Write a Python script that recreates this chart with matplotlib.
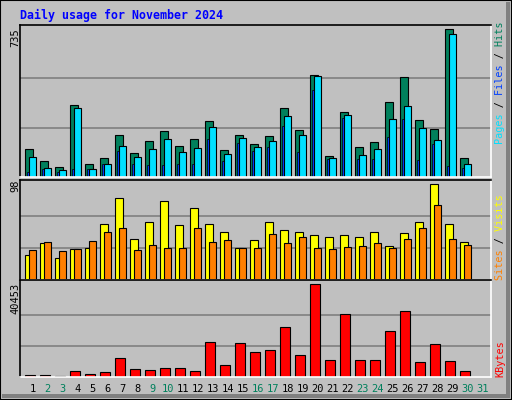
import matplotlib
matplotlib.use("Agg")
from matplotlib import pyplot as plt
from matplotlib.patches import Rectangle
import numpy as np

days = list(range(1, 32))
hits = [141, 77, 52, 356, 67, 96, 211, 121, 181, 226, 156, 191, 276, 136, 211,
        166, 206, 341, 231, 506, 106, 321, 151, 176, 371, 496, 281, 236, 735, 96]
files = [101, 47, 37, 341, 42, 67, 156, 101, 141, 191, 126, 146, 246, 116, 196,
         151, 181, 301, 211, 501, 96, 306, 111, 141, 286, 351, 241, 186, 710, 67]
pages = [27, 42, 27, 42, 42, 67, 131, 67, 62, 62, 67, 67, 191, 77, 171,
         131, 151, 251, 126, 431, 91, 291, 91, 91, 201, 286, 86, 166, 57, 47]
visits = [26, 38, 23, 32, 33, 57, 84, 42, 59, 81, 56, 74, 57, 49, 33,
          41, 59, 51, 49, 46, 44, 46, 44, 49, 35, 48, 59, 98, 57, 39]
sites = [31, 39, 30, 32, 40, 49, 53, 31, 36, 33, 33, 53, 39, 41, 33,
         33, 47, 38, 44, 33, 32, 34, 35, 38, 33, 42, 53, 77, 42, 36]
kbytes = [1033, 1033, 590, 2800, 1480, 2360, 8120, 3690, 3250, 4130, 4130, 2800,
          15200, 5460, 14760, 10780, 11660, 21850, 9450, 40453, 7230, 27600, 7230,
          7230, 20080, 28930, 6350, 14320, 6790, 2800]
weekend = [2, 3, 9, 10, 16, 17, 23, 24, 30, 31]

W, H = 512, 400
BG = "#C0C0C0"
fig = plt.figure(figsize=(W / 100, H / 100), dpi=100, facecolor=BG)
mono = "DejaVu Sans Mono"


def px_axes(x0, y0, x1, y1):
    return fig.add_axes([x0 / W, 1 - y1 / H, (x1 - x0) / W, (y1 - y0) / H])


# frame bevel
fig.patches.append(Rectangle((0, 0), 1, 1, transform=fig.transFigure, fill=False,
                             edgecolor="black", linewidth=1.5))
fig.patches.append(Rectangle((506 / W, 2 / H), 4 / W, 396 / H, transform=fig.transFigure,
                             color="#808080", linewidth=0))
fig.patches.append(Rectangle((2 / W, 2 / H), 508 / W, 4 / H, transform=fig.transFigure,
                             color="#808080", linewidth=0))

x = np.array(days[:30])
lw = 0.8
xlim = (0.347, 31.747)


def style(ax, ymax, grid):
    ax.set_facecolor(BG)
    ax.set_xlim(*xlim)
    ax.set_ylim(0, ymax)
    ax.set_xticks([])
    ax.set_yticks([])
    for g in grid:
        ax.axhline(g, color="#808080", linewidth=1.2, zorder=0)
    ax.spines["left"].set_color("black")
    ax.spines["top"].set_color("black")
    ax.spines["right"].set_color("white")
    ax.spines["bottom"].set_color("white")
    for s in ax.spines.values():
        s.set_linewidth(1.2)


ax1 = px_axes(20, 25, 491, 177)
style(ax1, 735 * 152 / 148, [245, 490])
ax1.bar(x - 0.3, hits, 0.5, align="edge", color="#00805C", edgecolor="black", linewidth=lw)
ax1.bar(x - 0.17, pages, 0.13, align="edge", color="#0040FF", edgecolor="black", linewidth=0.5)
ax1.bar(x - 0.03, files, 0.47, align="edge", color="#00E0FF", edgecolor="black", linewidth=lw)

ax2 = px_axes(20, 180, 491, 280)
style(ax2, 98 * 290 / 277, [32.7, 65.3])
ax2.bar(x - 0.3, visits, 0.5, align="edge", color="#FFFF00", edgecolor="black", linewidth=lw)
ax2.bar(x - 0.03, sites, 0.47, align="edge", color="#FF8000", edgecolor="black", linewidth=lw)

ax3 = px_axes(20, 280, 491, 377)
style(ax3, 40453 * 287 / 274, [13484, 26969])
ax3.bar(x - 0.3, kbytes, 0.67, align="edge", color="#FF0000", edgecolor="black", linewidth=lw)

for d in days:
    c = "#00805C" if d in weekend else "black"
    ax3.text(d + 0.2, -12 / 97, str(d), transform=ax3.get_xaxis_transform(), ha="center",
             va="center", fontsize=7.5, family=mono, color=c)

fig.text(20 / W, 1 - 15 / H, "Daily usage for November 2024", fontsize=8.4, family=mono,
         weight="bold", color="#0000FF", va="center")

# max value labels
for label, ytop in [("735", 28), ("98", 180), ("40453", 283)]:
    fig.text(15 / W, 1 - ytop / H, label, rotation=90, ha="center", va="top",
             fontsize=7.5, family=mono, color="black")


def right_label(parts, ycen):
    full = "".join(p for p, _ in parts)
    pos = 0
    for p, c in parts:
        s = " " * pos + p + " " * (len(full) - pos - len(p))
        fig.text(500 / W, 1 - ycen / H, s, rotation=90, ha="center", va="center",
                 fontsize=7.3, family=mono, color=c)
        pos += len(p)


right_label([("Pages", "#00E0FF"), (" / ", "black"), ("Files", "#0040FF"),
             (" / ", "black"), ("Hits", "#00805C")], 83)
right_label([("Sites", "#FF8000"), (" / ", "black"), ("Visits", "#FFFF00")], 237)
right_label([("KBytes", "#FF0000")], 359)

fig.savefig("out.png", dpi=100, facecolor=BG)
